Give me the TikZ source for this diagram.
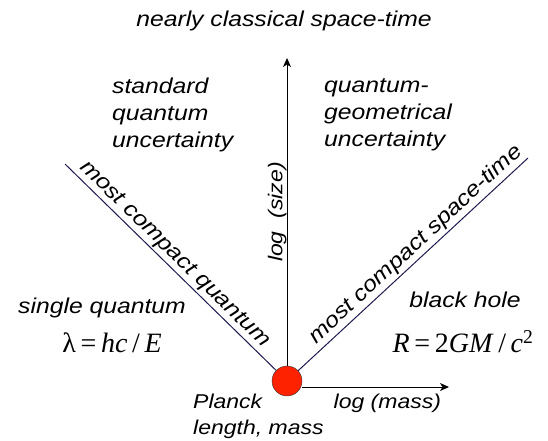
\documentclass[tikz,border=0pt]{standalone}
\usepackage{fontspec}
\setmainfont{Liberation Sans}
\newfontfamily\labelfont{Liberation Sans}[FakeStretch=1.15]
\newfontfamily\eqfont{Liberation Serif}
\usetikzlibrary{arrows.meta, positioning}
\definecolor{navy}{RGB}{28,26,78}
\definecolor{planckred}{RGB}{255,34,0}
\tikzset{
    region/.style={font=\labelfont\itshape\fontsize{21.5}{27}\selectfont, align=left, inner sep=0pt},
    axislabel/.style={font=\labelfont\itshape\fontsize{20}{26}\selectfont, inner sep=0pt},
    formula/.style={font=\eqfont\fontsize{28}{32}\selectfont, inner sep=0pt},
    axis/.style={-{Stealth[length=9pt, width=8pt, inset=2.5pt]}, line width=1pt},
    boundary/.style={draw=navy, line width=1pt},
    point/.style={circle, draw=black!80, fill=planckred, minimum size=30pt, inner sep=0pt},
}

\begin{document}
\begin{tikzpicture}[x=1pt, y=-1pt]
        \useasboundingbox (0,0) rectangle (548,440);

        % Nodes
        \node[point] (planck) at (287,381) {};
        \coordinate (sizeend) at (287,58);
        \coordinate (massend) at (449,387);
        \coordinate (quantumend) at (65,164);
        \coordinate (spacetimeend) at (528,158);

        \node[region] (classical) at (284,21) {nearly classical space-time};
        \node[region, anchor=north west] (standard) at (112,78) {standard\\quantum\\uncertainty};
        \node[region, anchor=north west] (geometrical) at (324,78) {quantum-\\geometrical\\uncertainty};
        \node[region, anchor=west] (single) at (18,308) {single quantum};
        \node[formula] (compton) at (112,343) {λ\,=\,\textit{hc}\,/\,\textit{E}};
        \node[region] (blackhole) at (465,300) {black hole};
        \node[formula] (schwarzschild) at (463,342) {\textit{R}\,=\,2\textit{GM}\,/\,\textit{c}\textsuperscript{2}};
        \node[axislabel, anchor=west, align=left] (plancklabel) at (193,416) {Planck\\length, mass};

        % Connections
        \draw[axis] (planck) -- (sizeend)
            node[axislabel, pos=0.47, rotate=90, above=9pt] (sizelabel) {log~~(size)};
        \draw[axis] (planck.east |- massend) -- (massend)
            node[axislabel, pos=0.58, below=6pt] (masslabel) {log (mass)};
        \draw[boundary] (quantumend) -- (planck)
            node[region, pos=0.48, sloped, above=2pt] (quantumlabel) {most compact quantum};
        \draw[boundary] (planck) -- (spacetimeend)
            node[region, pos=0.55, sloped, above=2pt] (spacetimelabel) {most compact space-time};
\end{tikzpicture}
\end{document}
